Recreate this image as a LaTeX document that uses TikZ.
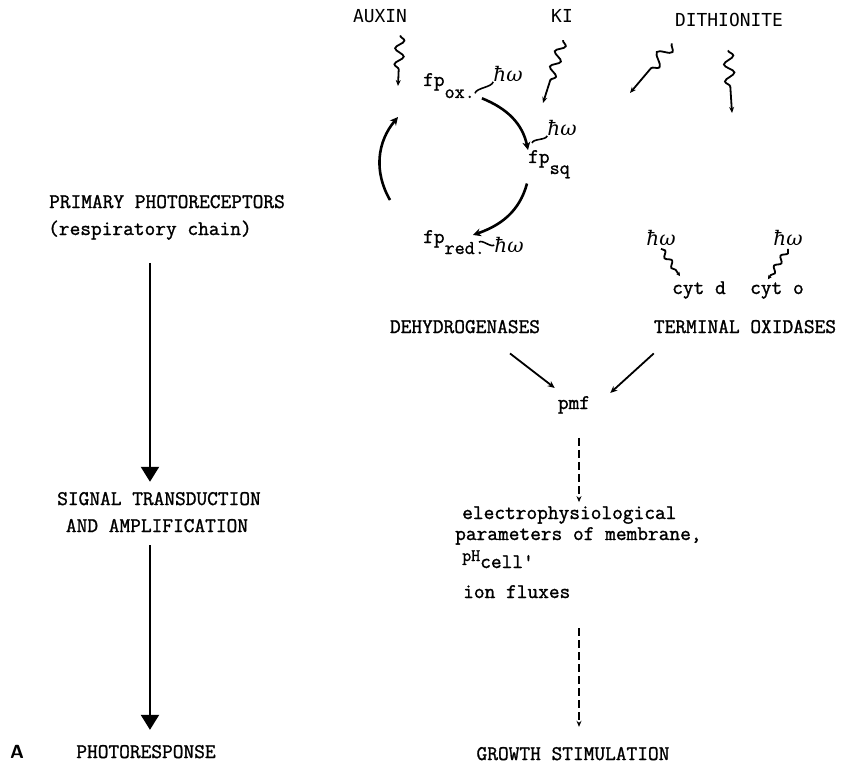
\documentclass[tikz,border=0pt]{standalone}
\usepackage{fontspec}
\usepackage{amsmath}
\usetikzlibrary{%
  positioning
 ,arrows.meta
 ,calc
 ,decorations.pathmorphing
}
\newfontfamily\labfont{DejaVu Sans Mono}
\newfontfamily\twfont{Latin Modern Mono}[FakeBold=1.3]
\newfontfamily\hwfont{DejaVu Serif}
\tikzstyle{txt}=[inner sep=0pt,font=\twfont\fontsize{20.8}{25}\selectfont]
\tikzstyle{lab}=[inner sep=0pt,font=\labfont\fontsize{17.9}{20}\selectfont]
\tikzstyle{hw}=[inner sep=0pt,font=\hwfont\itshape\fontsize{20}{20}\selectfont]
\tikzstyle{bigarr}=[line width=2.2pt,-{Triangle[width=18pt,length=15pt]}]
\tikzstyle{arr}=[line width=1.8pt,-{Stealth[width=6pt,length=7pt]}]
\tikzstyle{cyc}=[line width=2.6pt,-{Stealth[width=8pt,length=8pt]}]
\tikzstyle{dsh}=[line width=1.8pt,dash pattern=on 8pt off 4pt,-{Stealth[width=5pt,length=6pt]}]
\tikzstyle{wavy}=[line width=1.8pt,-{Stealth[width=5pt,length=6pt]},decorate,
  decoration={snake,amplitude=4.5pt,segment length=16pt,post length=12pt}]
\tikzstyle{tilde}=[line width=1.6pt,looseness=0.7]
\newcommand{\lowsub}[2][11pt]{\raisebox{-#1}{\fontsize{19.5}{20}\selectfont #2}}

\begin{document}
\begin{tikzpicture}[x=1pt,y=1pt]
  \useasboundingbox (0,0) rectangle (841,-765);
  % left column
  \node[txt,anchor=base] (n_prim) at (167,-208) {PRIMARY PHOTORECEPTORS};
  \node[txt,anchor=base west] (n_resp) at (48,-235) {(respiratory chain)};
  \node[txt,anchor=base] (n_sig) at (159,-505) {SIGNAL TRANSDUCTION};
  \node[txt,anchor=base] (n_amp) at (157,-532) {AND AMPLIFICATION};
  \node[txt,anchor=base] (n_photo) at (146,-758) {PHOTORESPONSE};
  \node[inner sep=0pt,anchor=base west,font=\sffamily\bfseries\fontsize{19}{20}\selectfont] (n_A) at (10,-758) {A};
  \path (n_resp.south) edge[bigarr,shorten <=23pt,shorten >=10pt] (n_resp.south |- n_sig.north)
        (n_resp.south |- n_amp.south) edge[bigarr,shorten <=13pt,shorten >=15pt] (n_resp.south |- n_photo.north);

  % cycle
  \node[lab,anchor=base] (n_auxin) at (380,-23) {AUXIN};
  \node[lab,anchor=base] (n_ki) at (562,-23) {KI};
  \node[lab,anchor=base] (n_dith) at (729,-27) {DITHIONITE};
  \node[txt,anchor=base west] (n_ox) at (423,-86) {fp\lowsub[12pt]{ox.}};
  \node[txt,anchor=base west] (n_sq) at (528,-163) {fp\lowsub{sq}};
  \node[txt,anchor=base west] (n_red) at (423,-243) {fp\lowsub{red.}};
  \node[hw] (n_hw1) at (508,-74) {ħω};
  \node[hw] (n_hw2) at (562,-128) {ħω};
  \node[hw] (n_hw3) at (509,-245) {ħω};
  \coordinate (c_aux) at (398,-86);
  \coordinate (c_ki) at (543,-103);
  \coordinate (c_dl) at (630,-93);
  \coordinate (c_dr) at (732,-113);
  \coordinate (c_lo) at (390,-200);
  \coordinate (c_hi) at (398,-117);
  \draw[wavy] ([shift={(-7pt,-12pt)}]n_auxin.south east) -- (c_aux);
  \draw[wavy,decoration={post length=20pt}] ([shift={(1pt,-17pt)}]n_ki.south) -- (c_ki);
  \draw[wavy,decoration={amplitude=6pt,segment length=20pt,post length=24pt}] ([shift={(-3pt,-16pt)}]n_dith.south west) -- (c_dl);
  \draw[wavy,decoration={amplitude=5pt,segment length=17pt,post length=22pt}] ([shift={(-1pt,-23pt)}]n_dith.south) -- (c_dr);
  \draw[cyc] ([xshift=7pt]n_ox.south east) to[out=-22,in=102] (n_sq.north west);
  \draw[cyc] ([shift={(-1pt,-5pt)}]n_sq.south west) to[out=-105,in=19] ([shift={(-12pt,-5pt)}]n_red.north east);
  \draw[cyc] (c_lo) to[out=120,in=-130] (c_hi);
  \draw[tilde] ([yshift=5pt]n_ox.south east) to[out=75,in=255] (n_hw1.south west);
  \draw[tilde] ([shift={(4pt,7pt)}]n_sq.north west) to[out=75,in=255] (n_hw2.south west);
  \draw[tilde] ([xshift=-6pt]n_red.east) to[out=45,in=225] (n_hw3.west);

  % oxidases
  \node[hw] (n_hw4) at (661,-238) {ħω};
  \node[hw] (n_hw5) at (788,-238) {ħω};
  \node[txt,anchor=base west] (n_cytd) at (672,-294) {cyt d};
  \node[txt] (n_cyto) [base right=24pt of n_cytd] {cyt o};
  \draw[wavy,decoration={amplitude=2.5pt,segment length=12pt,post length=4pt},-{Stealth[width=4pt,length=4pt]}]
    ([yshift=-3pt]n_hw4.south) -- ([shift={(8pt,5pt)}]n_cytd.north west);
  \draw[wavy,decoration={amplitude=2.5pt,segment length=12pt,post length=4pt},-{Stealth[width=4pt,length=4pt]}]
    ([yshift=-3pt]n_hw5.south) -- ([shift={(18pt,3pt)}]n_cyto.north west);

  % membrane
  \node[txt,anchor=base] (n_dehyd) at (465,-333) {DEHYDROGENASES};
  \node[txt,anchor=base] (n_term) at (745,-333) {TERMINAL OXIDASES};
  \node[txt,anchor=base] (n_pmf) at (574,-409) {pmf};
  \node[txt,anchor=base west] (n_el) at (462,-519) {electrophysiological};
  \node[txt,anchor=base west] (n_par) at (455,-540) {parameters of membrane,};
  \node[txt,anchor=base west] (n_ph) at (462,-568) {\raisebox{7pt}{\fontsize{17.5}{18}\selectfont pH}cell'};
  \node[txt,anchor=base west] (n_ion) at (463,-598) {ion fluxes};
  \node[txt,anchor=base] (n_growth) at (573,-760) {GROWTH STIMULATION};
  \coordinate (c_axis) at (579,0);
  \draw[arr] ([shift={(45pt,-20pt)}]n_dehyd.south) -- ([shift={(-3pt,8pt)}]n_pmf.north west);
  \draw[arr] ([yshift=-20pt]n_term.south west) -- ([shift={(20pt,3pt)}]n_pmf.north east);
  \draw[dsh,shorten <=24pt,shorten >=4pt] (c_axis |- n_pmf.south) -- (c_axis |- n_el.north);
  \draw[dsh,shorten <=30pt,shorten >=20pt] (c_axis |- n_ion.south) -- (c_axis |- n_growth.north);
\end{tikzpicture}
\end{document}
